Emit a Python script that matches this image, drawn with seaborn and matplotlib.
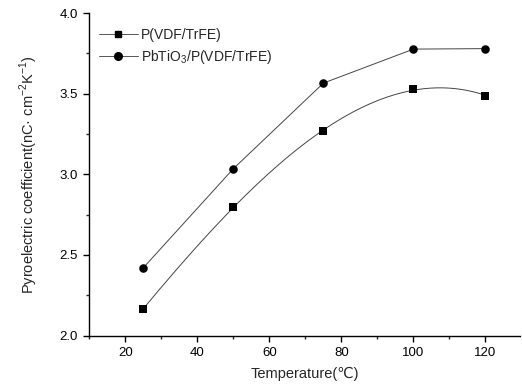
import numpy as np
import pandas as pd
import matplotlib
matplotlib.use("Agg")
import matplotlib.pyplot as plt
from matplotlib.lines import Line2D
from matplotlib.ticker import MultipleLocator, FormatStrFormatter
import seaborn as sns

# data
temperature = [25, 50, 75, 100, 120]
pvdf = [2.165, 2.80, 3.266, 3.529, 3.488]
pbtio3_pvdf = [2.42, 3.035, 3.566, 3.777, 3.78]
labels = ["P(VDF/TrFE)", "PbTiO$_3$/P(VDF/TrFE)"]

sns.set_style("ticks")
plt.rcParams["font.family"] = ["Liberation Sans", "DejaVu Sans"]
plt.rcParams["mathtext.fontset"] = "custom"
plt.rcParams["mathtext.rm"] = "Liberation Sans"

df = pd.DataFrame({"T": temperature, "p1": pvdf, "p2": pbtio3_pvdf})

# smooth curve through P(VDF/TrFE): cubic fit of the measured points
coef = np.polyfit(df["T"], df["p1"], 3)
t_fit = np.linspace(25, 120, 200)
fit = pd.DataFrame({"T": t_fit, "p": np.polyval(coef, t_fit)})

fig = plt.figure(figsize=(5.22, 3.87), dpi=100)
ax = fig.add_axes([0.171, 0.133, 0.826, 0.833])

line_col = "#444444"
sns.lineplot(data=fit, x="T", y="p", color=line_col, linewidth=0.7, ax=ax)
sns.scatterplot(data=df, x="T", y="p1", marker="s", s=30, color="black",
                edgecolor="black", linewidth=0, ax=ax, zorder=3)
sns.lineplot(data=df, x="T", y="p2", color=line_col, linewidth=0.7, ax=ax)
sns.scatterplot(data=df, x="T", y="p2", marker="o", s=38, color="black",
                edgecolor="black", linewidth=0, ax=ax, zorder=3)

ax.set_xlim(10, 129.7)
ax.set_ylim(2.0, 4.0)
ax.xaxis.set_major_locator(MultipleLocator(20))
ax.xaxis.set_minor_locator(MultipleLocator(10))
ax.yaxis.set_major_locator(MultipleLocator(0.5))
ax.yaxis.set_minor_locator(MultipleLocator(0.25))
ax.tick_params(which="major", direction="out", length=4.5, width=1, labelsize=9.5,
               colors="black")
ax.tick_params(which="minor", direction="out", length=2.5, width=1)
ax.yaxis.set_major_formatter(FormatStrFormatter("%.1f"))
sns.despine(ax=ax)
for sp in ax.spines.values():
    sp.set_linewidth(1)
    sp.set_color("black")

ax.set_xlabel("Temperature(℃)", fontsize=10.5, labelpad=6)
ax.set_ylabel("Pyroelectric coefficient(nC· cm$^{-2}$K$^{-1}$)", fontsize=10.5,
              labelpad=14)

handles = [
    Line2D([], [], color="#555555", linewidth=0.7, marker="s", markersize=5,
           markerfacecolor="black", markeredgecolor="black"),
    Line2D([], [], color="#555555", linewidth=0.7, marker="o", markersize=5.5,
           markerfacecolor="black", markeredgecolor="black"),
]
ax.legend(handles, labels, loc="upper left", bbox_to_anchor=(0.0, 0.985),
          frameon=False, fontsize=10, handlelength=2.8, handletextpad=0.25,
          labelspacing=0.45, borderaxespad=0.3)

fig.savefig("out.png", dpi=100)
